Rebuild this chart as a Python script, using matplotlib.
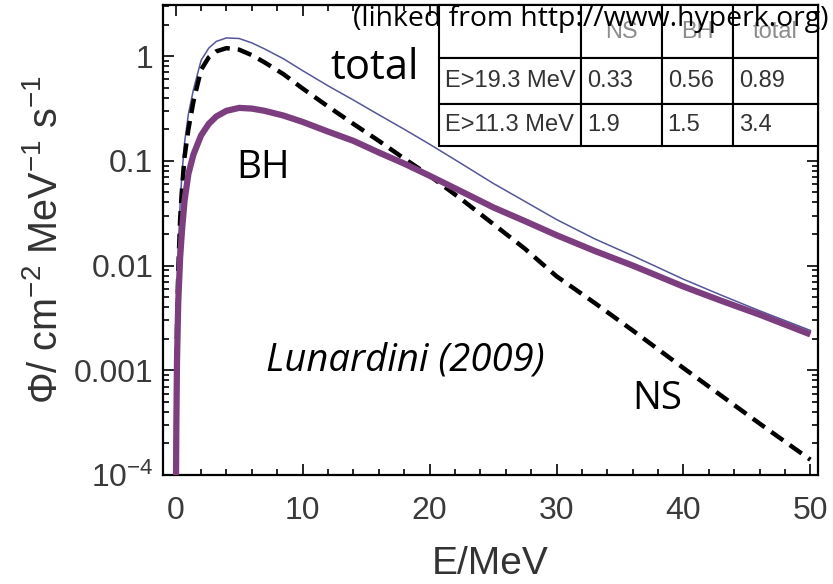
import numpy as np
import matplotlib
matplotlib.use("Agg")
import matplotlib.pyplot as plt
from matplotlib.ticker import FixedLocator, LogLocator, NullFormatter, MultipleLocator

# energy grid (MeV) and fluxes (cm^-2 MeV^-1 s^-1)
energy = [0.02, 0.05, 0.1, 0.2, 0.35, 0.5, 0.7, 1.0, 1.4, 2.0, 2.6, 3.2, 4.0, 5.0,
          6.0, 7.0, 8.5, 10, 12, 14, 16, 18, 20, 22.5, 25, 27.5, 30, 33, 36, 40,
          43, 46, 50]
flux_ns = [1.0e-4, 6e-4, 0.0025, 0.009, 0.028, 0.055, 0.11, 0.2, 0.37, 0.74, 0.97,
           1.11, 1.19, 1.15, 1.02, 0.87, 0.67, 0.49, 0.33, 0.225, 0.155, 0.105, 0.072,
           0.043, 0.025, 0.0145, 0.0079, 0.0044, 0.0024, 0.00105, 5.7e-4, 3.1e-4, 1.4e-4]
flux_bh = [8e-5, 3e-4, 0.0012, 0.0045, 0.012, 0.022, 0.042, 0.075, 0.115, 0.175, 0.225,
           0.265, 0.30, 0.32, 0.315, 0.30, 0.27, 0.235, 0.19, 0.155, 0.12, 0.094,
           0.072, 0.051, 0.036, 0.0266, 0.0195, 0.0138, 0.010, 0.0063, 0.0046,
           0.0034, 0.0022]
flux_total = [1.8e-4, 9e-4, 0.0037, 0.0135, 0.04, 0.077, 0.15, 0.28, 0.48, 0.91,
              1.19, 1.38, 1.49, 1.47, 1.335, 1.17, 0.94, 0.725, 0.52, 0.38, 0.275,
              0.20, 0.144, 0.094, 0.061, 0.041, 0.0275, 0.018, 0.0124, 0.0074,
              0.0052, 0.0037, 0.0024]

# event rate table
col_labels = ["", "NS", "BH", "total"]
row_labels = ["E>19.3 MeV", "E>11.3 MeV"]
rates = [["0.33", "0.56", "0.89"],
         ["1.9", "1.5", "3.4"]]

y_ticks = [1e-4, 1e-3, 1e-2, 1e-1, 1]
y_ticklabels = [r"10$^{-4}$", "0.001", "0.01", "0.1", "1"]

plt.rcParams["font.family"] = ["Liberation Sans", "DejaVu Sans"]
plt.rcParams["mathtext.fontset"] = "custom"
plt.rcParams["mathtext.rm"] = "Liberation Sans"
plt.rcParams["mathtext.it"] = "Liberation Sans:italic"

fig = plt.figure(figsize=(8.33, 5.84), dpi=100)
ax = fig.add_axes([0.1957, 0.1866, 0.7863, 0.8048])

ax.plot(energy, flux_total, color="#55559a", lw=1.1, zorder=2)
ns_line, = ax.plot(energy, flux_ns, color="black", lw=3.2, zorder=3)
ns_line.set_dashes([3.3, 1.8])
ax.plot(energy, flux_bh, color="#7c3e7f", lw=4.5, zorder=4, solid_capstyle="butt")

ax.set_yscale("log")
ax.set_xlim(-1.0, 50.6)
ax.set_ylim(1e-4, 3.07)

ax.yaxis.set_major_locator(FixedLocator(y_ticks))
ax.set_yticklabels(y_ticklabels)
ax.yaxis.set_minor_locator(LogLocator(base=10, subs=np.arange(2, 10)))
ax.yaxis.set_minor_formatter(NullFormatter())
ax.xaxis.set_major_locator(MultipleLocator(10))
ax.xaxis.set_minor_locator(MultipleLocator(2))

ax.tick_params(which="both", direction="in", top=True, right=True,
               labelsize=23, labelcolor="#3a3a3a", width=1.2)
ax.tick_params(which="major", length=8)
ax.tick_params(which="minor", length=4.5)
ax.tick_params(axis="x", pad=15)
ax.tick_params(axis="y", pad=7)
for s in ax.spines.values():
    s.set_linewidth(1.6)

ax.set_xlabel("E/MeV", fontsize=28, color="#333333")
ax.xaxis.set_label_coords(0.5, -0.15)
ax.set_ylabel(r"$\Phi$/ cm$^{-2}$ MeV$^{-1}$ s$^{-1}$", fontsize=28.5, color="#333333")
ax.yaxis.set_label_coords(-0.15, 0.5)

# curve labels
ax.text(15.7, 0.77, "total", fontsize=30, family="Open Sans", ha="center", va="center")
ax.text(6.9, 0.085, "BH", fontsize=28, family="Open Sans", ha="center", va="center")
ax.text(37.9, 5.3e-4, "NS", fontsize=27.5, family="Open Sans", ha="center", va="center")
ax.text(18.1, 0.00125, "Lunardini (2009)", fontsize=27.5, family="Open Sans",
        style="italic", ha="center", va="center")

# table in the top right corner
tab = ax.table(cellText=[[r] + v for r, v in zip(row_labels, rates)],
               colLabels=col_labels, cellLoc="left",
               bbox=[0.4216, 0.70, 0.5784, 0.30], zorder=5)
tab.auto_set_font_size(False)
tab.set_fontsize(17)
col_w = [142, 80, 71, 85]
row_h = [53, 46, 42]
for (r, c), cell in tab.get_celld().items():
    cell.set_width(col_w[c])
    cell.set_height(row_h[r])
    cell.set_linewidth(1.5)
    cell.set_edgecolor("black")
    cell.PAD = 6.0 / col_w[c]
    cell.get_text().set_color("#8c8c8c" if r == 0 else "#333333")

fig.text(0.994, 0.955, "(linked from http://www.hyperk.org)", fontsize=20.4,
         family="Open Sans", ha="right", va="baseline", zorder=10)

fig.savefig("out.png", dpi=100)
